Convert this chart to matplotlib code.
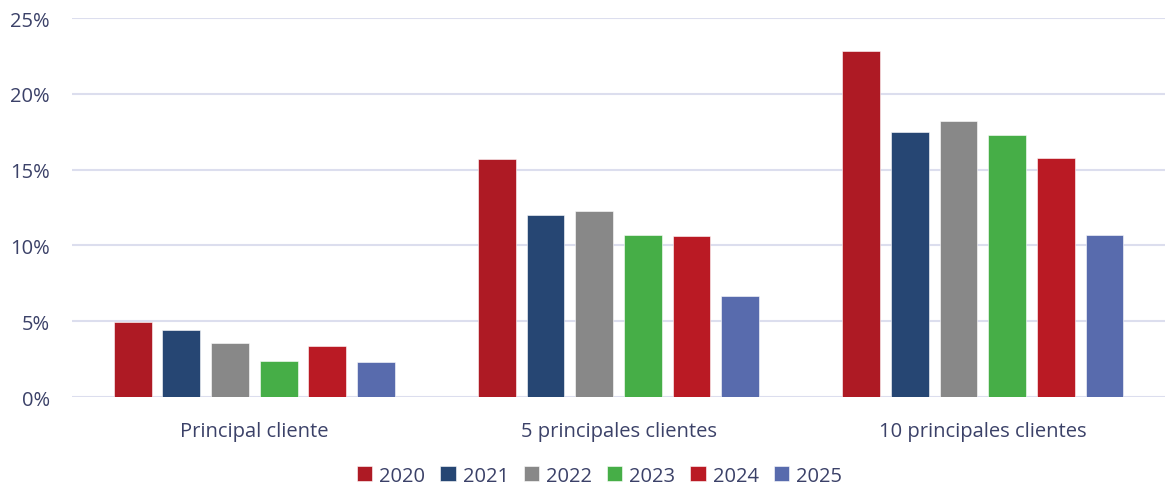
import numpy as np
import matplotlib
matplotlib.use('Agg')
import matplotlib.pyplot as plt
from matplotlib.ticker import FuncFormatter

plt.rcParams['font.family'] = ['Open Sans', 'DejaVu Sans']

categories = ['Principal cliente', '5 principales clientes', '10 principales clientes']
years = ['2020', '2021', '2022', '2023', '2024', '2025']
v2020 = [4.95, 15.7, 22.85]
v2021 = [4.4, 12.0, 17.5]
v2022 = [3.55, 12.25, 18.2]
v2023 = [2.35, 10.7, 17.3]
v2024 = [3.4, 10.6, 15.8]
v2025 = [2.3, 6.65, 10.7]
series = [v2020, v2021, v2022, v2023, v2024, v2025]
colors = ['#AE1A24', '#264673', '#888888', '#46AE47', '#BA1A24', '#586BAD']

TEXT = '#3B4168'
GRID = '#DCDEEE'

fig = plt.figure(figsize=(11.65, 4.89), dpi=100)
ax = fig.add_axes([0.062, 0.186, 0.938, 0.775])

x = np.arange(len(categories))
pitch = 0.1336
width = 0.1036
for i, (vals, col, yr) in enumerate(zip(series, colors, years)):
    offset = (i - 2.5) * pitch
    ax.bar(x + offset, vals, width=width, color=col, label=yr, zorder=3,
           edgecolor='white', linewidth=0.4)

ax.set_xlim(-0.5, 2.5)
ax.set_ylim(0, 25)
ax.set_yticks([0, 5, 10, 15, 20, 25])
ax.yaxis.set_major_formatter(FuncFormatter(lambda v, p: f'{v:.0f}%'))
ax.set_xticks(x)
ax.set_xticklabels(categories)
ax.grid(axis='y', color=GRID, linewidth=1.5, zorder=0)
for s in ax.spines.values():
    s.set_visible(False)
ax.tick_params(axis='both', length=0, labelsize=14.5, colors=TEXT)
ax.tick_params(axis='x', pad=17)
ax.tick_params(axis='y', pad=16)

leg = fig.legend(loc='lower center', ncol=6, frameon=False, fontsize=14.5,
                 bbox_to_anchor=(0.5146, -0.032), handlelength=0.75, handleheight=0.75,
                 handletextpad=0.35, columnspacing=0.75)
for t in leg.get_texts():
    t.set_color(TEXT)

fig.savefig('out.png', dpi=100)
